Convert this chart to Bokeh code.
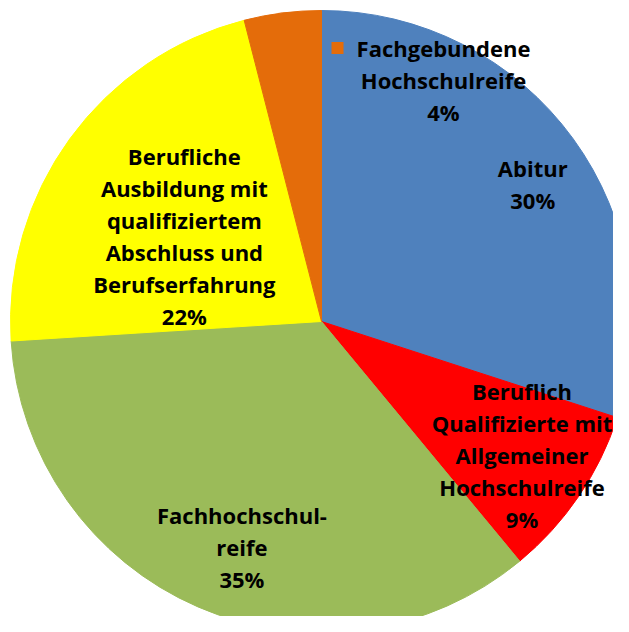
import math
from bokeh.plotting import figure
from bokeh.models import Range1d, ColumnDataSource
from bokeh.core.properties import value
from bokeh.embed import file_html
from bokeh.resources import INLINE

# ---- data ----
categories = [
    "Abitur",
    "Beruflich\nQualifizierte mit\nAllgemeiner\nHochschulreife",
    "Fachhochschul-\nreife",
    "Berufliche\nAusbildung mit\nqualifiziertem\nAbschluss und\nBerufserfahrung",
    "Fachgebundene\nHochschulreife",
]
percent = [30, 9, 35, 22, 4]
colors = ["#4F81BD", "#FF0000", "#9BBB59", "#FFFF00", "#E46C0A"]

# ---- layout (label placement: polar offset relative to slice middle) ----
label_radius_frac = [0.81, 0.775, 0.77, 0.52, 0.87]
label_angle_shift_deg = [3, -0.5, -4, -4, 34]

W, H = 613, 616
CX, CY = 321, 321
R = 311
p = figure(width=W, height=H, output_backend="svg", toolbar_location=None,
           x_range=Range1d(-CX, W - CX), y_range=Range1d(CY - H, CY),
           min_border=0)
p.axis.visible = False
p.grid.visible = False
p.outline_line_color = None
p.background_fill_color = "white"

total = sum(percent)
starts, ends, mids = [], [], []
acc = 0.0
for v in percent:
    a0 = math.pi / 2 - acc / total * 2 * math.pi
    acc += v
    a1 = math.pi / 2 - acc / total * 2 * math.pi
    starts.append(a0)
    ends.append(a1)
    mids.append((a0 + a1) / 2)

src = ColumnDataSource(dict(start=starts, end=ends, color=colors))
p.wedge(x=0, y=0, radius=R, start_angle="start", end_angle="end",
        direction="clock", fill_color="color", line_color="color",
        line_width=1, source=src)

lx, ly, ltxt = [], [], []
for i, (c, v) in enumerate(zip(categories, percent)):
    ang = mids[i] - math.radians(label_angle_shift_deg[i])
    r = label_radius_frac[i] * R
    lx.append(r * math.cos(ang))
    ly.append(r * math.sin(ang))
    ltxt.append(f"{c}\n{v}%")

p.text(x=lx, y=ly, text=ltxt, text_align="center", text_baseline="middle",
       text_font=value("Open Sans"), text_font_style="bold",
       text_font_size="22px", text_line_height=1.07, text_color="black")

# legend key for the Fachgebundene label
i = 4
nlines = ltxt[i].count("\n") + 1
first_line_y = ly[i] + (nlines - 1) / 2 * 32
p.scatter(x=[lx[i] - 106], y=[first_line_y], marker="square", size=12,
          fill_color=colors[i], line_color=None)

open("out.html", "w").write(file_html(p, INLINE))
